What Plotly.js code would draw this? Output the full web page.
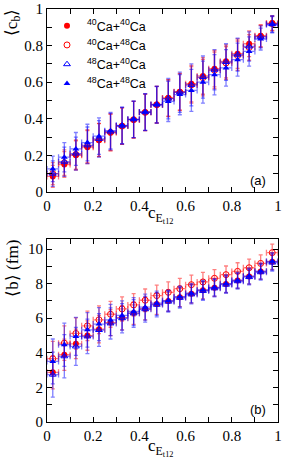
<!DOCTYPE html>
<html><head><meta charset="utf-8">
<script src="https://cdn.plot.ly/plotly-3.0.1.min.js"></script>
<style>html,body{margin:0;padding:0;background:#fff}#plot{width:296px;height:461px}</style>
</head><body><div id="plot"></div>
<script>
// bin centres of c_Et12
const xBins = [0.025,0.075,0.125,0.175,0.225,0.275,0.325,0.375,0.425,0.475,0.525,0.575,0.625,0.675,0.725,0.775,0.825,0.875,0.925,0.975];
const xHalfWidth = [0.025,0.025,0.025,0.025,0.025,0.025,0.025,0.025,0.025,0.025,0.025,0.025,0.025,0.025,0.025,0.025,0.025,0.025,0.025,0.025];
const seriesNames = ['<sup>40</sup>Ca+<sup>40</sup>Ca','<sup>40</sup>Ca+<sup>48</sup>Ca','<sup>48</sup>Ca+<sup>40</sup>Ca','<sup>48</sup>Ca+<sup>48</sup>Ca'];

// panel (a): <c_b>
const cb4040 = [0.085,0.15,0.20,0.245,0.283,0.326,0.36,0.395,0.435,0.477,0.514,0.548,0.592,0.634,0.674,0.714,0.756,0.81,0.854,0.923];
const cb4048 = [0.10,0.16,0.205,0.25,0.285,0.325,0.36,0.395,0.435,0.477,0.512,0.545,0.585,0.625,0.665,0.705,0.745,0.79,0.85,0.92];
const cb4840 = [0.10,0.165,0.21,0.255,0.29,0.33,0.362,0.397,0.436,0.478,0.51,0.545,0.585,0.628,0.668,0.71,0.75,0.795,0.848,0.918];
const cb4848 = [0.126,0.19,0.235,0.27,0.305,0.335,0.364,0.397,0.437,0.476,0.495,0.532,0.555,0.60,0.641,0.678,0.723,0.768,0.836,0.914];
const cbErrRed = [0.06,0.07,0.08,0.09,0.09,0.1,0.1,0.1,0.1,0.1,0.1,0.1,0.1,0.1,0.1,0.09,0.08,0.07,0.06,0.04];
const cbErrBlue = [0.07,0.08,0.09,0.1,0.1,0.1,0.1,0.1,0.1,0.1,0.11,0.11,0.115,0.115,0.11,0.1,0.09,0.08,0.06,0.045];

// panel (b): <b> (fm)
const b4040 = [2.87,3.89,4.52,5.0,5.37,5.75,6.03,6.3,6.55,6.82,7.0,7.22,7.42,7.62,7.77,7.98,8.18,8.42,8.7,9.27];
const b4048 = [3.66,4.56,5.12,5.56,5.91,6.23,6.54,6.77,7.04,7.31,7.5,7.71,7.94,8.1,8.31,8.52,8.71,8.92,9.17,9.79];
const b4840 = [2.74,3.8,4.37,4.95,5.32,5.7,6.0,6.28,6.52,6.78,6.96,7.18,7.38,7.58,7.73,7.94,8.14,8.38,8.66,9.22];
const b4848 = [3.5,4.47,4.95,5.33,5.66,5.9,6.16,6.39,6.64,6.87,7.02,7.25,7.45,7.64,7.79,8.0,8.2,8.44,8.73,9.29];
const bErrRedFill = [0.95,0.9,0.85,0.85,0.8,0.75,0.7,0.65,0.65,0.6,0.6,0.55,0.55,0.5,0.5,0.5,0.45,0.45,0.45,0.45];
const bErrRedOpen = [1.0,1.0,0.9,0.85,0.8,0.75,0.7,0.65,0.65,0.6,0.6,0.6,0.55,0.55,0.5,0.5,0.5,0.5,0.5,0.5];
const bErrBlue = [1.3,1.25,1.1,1.0,0.95,0.9,0.85,0.8,0.75,0.7,0.6,0.6,0.55,0.55,0.5,0.5,0.45,0.45,0.45,0.5];

const RED = '#ff0000', BLUE = '#0000ff';
const RED_E = 'rgba(255,0,0,0.5)', BLUE_E = 'rgba(0,0,255,0.5)';

const styles = [
  {ecol: RED_E, marker: {symbol:'circle', size:6, color:RED}},
  {ecol: RED_E, marker: {symbol:'circle-open', size:6, color:RED, line:{width:1}}},
  {ecol: BLUE_E, marker: {symbol:'triangle-up-open', size:6, color:BLUE, line:{width:1}}},
  {ecol: BLUE_E, marker: {symbol:'triangle-up', size:6, color:BLUE}}
];

function mk(i, y, err, xa, ya, showleg) {
  const s = styles[i];
  return {
    type:'scatter', mode:'markers', x:xBins, y:y, xaxis:xa, yaxis:ya,
    name: seriesNames[i], showlegend: showleg, legendgroup: 'g'+i,
    marker: s.marker,
    error_y: {type:'data', array: err, visible:true, color: s.ecol, thickness:1.3, width:2},
    error_x: {type:'data', array: xHalfWidth, visible:true, color: s.ecol, thickness:1.3, width:3}
  };
}

const data = [
  mk(0, cb4040, cbErrRed, 'x', 'y', true),
  mk(1, cb4048, cbErrRed, 'x', 'y', true),
  mk(2, cb4840, cbErrBlue, 'x', 'y', true),
  mk(3, cb4848, cbErrBlue, 'x', 'y', true),
  mk(0, b4040, bErrRedFill, 'x2', 'y2', false),
  mk(1, b4048, bErrRedOpen, 'x2', 'y2', false),
  mk(2, b4840, bErrBlue, 'x2', 'y2', false),
  mk(3, b4848, bErrBlue, 'x2', 'y2', false)
];

const serif = 'Liberation Serif, Times New Roman, serif';
const sans = 'Liberation Sans, Arial, sans-serif';

function axisCommon(dtick, minorDtick) {
  return {
    tickmode:'linear', tick0:0, dtick: dtick,
    ticks:'inside', ticklen:5, tickwidth:1, tickcolor:'#000',
    minor:{dtick:minorDtick, tick0:0, ticks:'inside', ticklen:5, tickwidth:1, tickcolor:'#000', showgrid:false},
    showline:true, linecolor:'#000', linewidth:1, mirror:'ticks',
    showgrid:false, zeroline:false,
    tickfont:{family: serif, size:15, color:'#000'}
  };
}

const layout = {
  width:296, height:461,
  margin:{l:46.5, r:18, t:9, b:39},
  paper_bgcolor:'#fff', plot_bgcolor:'#fff',
  showlegend:true,
  legend:{x:0.0, y:0.995, xanchor:'left', yanchor:'top', bgcolor:'rgba(0,0,0,0)',
          font:{family: sans, size:12.5, color:'#000'}, tracegroupgap:0},
  xaxis: Object.assign(axisCommon(0.2, 0.1), {range:[0,1], domain:[0,1], anchor:'y'}),
  yaxis: Object.assign(axisCommon(0.2, 0.1), {range:[0,1], domain:[0.557,1], anchor:'x'}),
  xaxis2: Object.assign(axisCommon(0.2, 0.1), {range:[0,1], domain:[0,1], anchor:'y2'}),
  yaxis2: Object.assign(axisCommon(2, 1), {range:[0,10.58], domain:[0,0.443], anchor:'x2'}),
  annotations:[
    {text:'c<sub>E<sub>t12</sub></sub>', xref:'x domain', yref:'y domain', x:0.49, y:-0.125, xanchor:'center', yanchor:'middle', showarrow:false, font:{family:serif, size:17, color:'#000'}},
    {text:'c<sub>E<sub>t12</sub></sub>', xref:'x2 domain', yref:'y2 domain', x:0.49, y:-0.14, xanchor:'center', yanchor:'middle', showarrow:false, font:{family:serif, size:17, color:'#000'}},
    {text:'⟨c<sub>b</sub>⟩', textangle:-90, xref:'x domain', yref:'y domain', x:-0.15, y:0.93, xanchor:'center', yanchor:'middle', showarrow:false, font:{family:serif, size:17, color:'#000'}},
    {text:'⟨b⟩ (fm)', textangle:-90, xref:'x2 domain', yref:'y2 domain', x:-0.15, y:0.84, xanchor:'center', yanchor:'middle', showarrow:false, font:{family:serif, size:17, color:'#000'}},
    {text:'(a)', xref:'x domain', yref:'y domain', x:0.914, y:0.062, xanchor:'center', yanchor:'middle', showarrow:false, font:{family:sans, size:13, color:'#000'}},
    {text:'(b)', xref:'x2 domain', yref:'y2 domain', x:0.914, y:0.068, xanchor:'center', yanchor:'middle', showarrow:false, font:{family:sans, size:13, color:'#000'}}
  ]
};

Plotly.newPlot('plot', data, layout, {displayModeBar:false, staticPlot:true});
</script></body></html>
